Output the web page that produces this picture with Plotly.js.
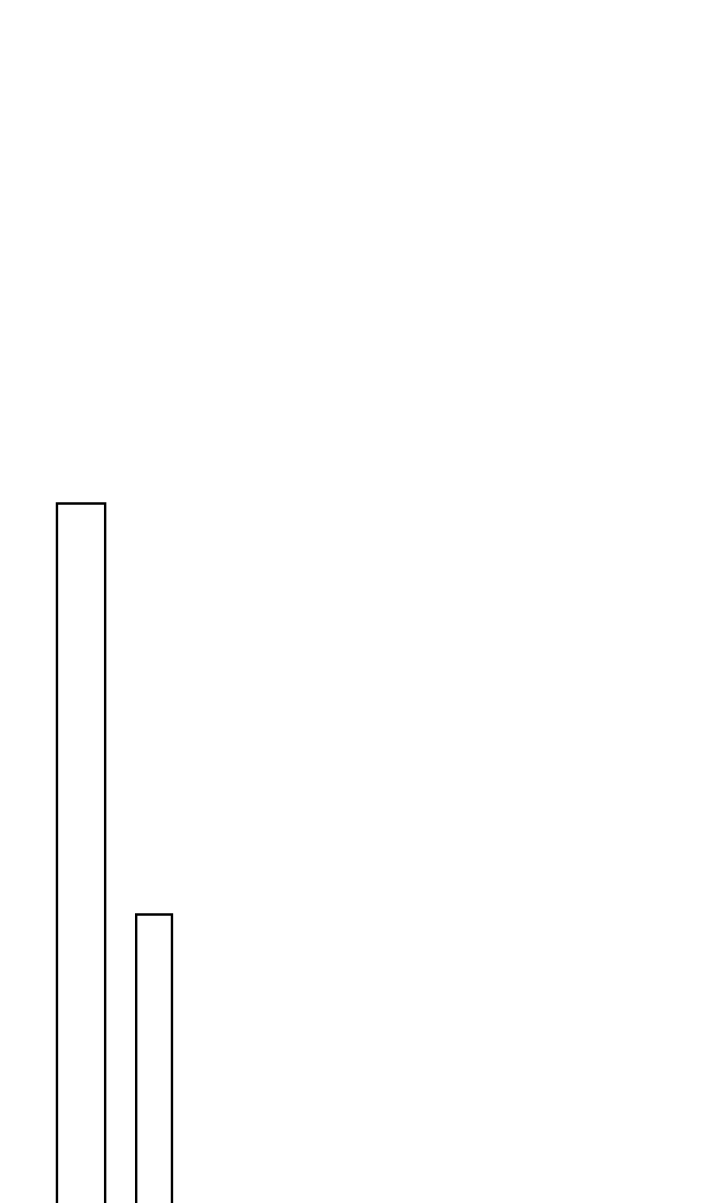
<!DOCTYPE html>
<html>
<head>
<meta charset="utf-8">
<script src="https://cdn.plot.ly/plotly-3.0.1.min.js"></script>
<style>
  html, body { margin: 0; padding: 0; background: #fff; }
  #plot { width: 720px; height: 1203px; }
</style>
</head>
<body>
<div id="plot"></div>
<script>
// two outlined bars, no axes
var categories = [0, 1];
var values = [100.15, 41.6];
var barWidths = [0.66, 0.49];

var bars = {
    x: categories,
    y: values,
    width: barWidths,
    type: 'bar',
    marker: {color: 'rgba(255,255,255,0)', line: {color: '#000', width: 2.4}},
    hoverinfo: 'none'
};

var layout = {
    width: 720,
    height: 1203,
    margin: {l: 0, r: 0, t: 0, b: 0},
    paper_bgcolor: '#fff',
    plot_bgcolor: '#fff',
    showlegend: false,
    xaxis: {range: [-1.11, 8.75], visible: false, fixedrange: true},
    yaxis: {range: [0.5, 171.86], visible: false, fixedrange: true}
};

Plotly.newPlot('plot', [bars], layout, {staticPlot: true});
</script>
</body>
</html>
